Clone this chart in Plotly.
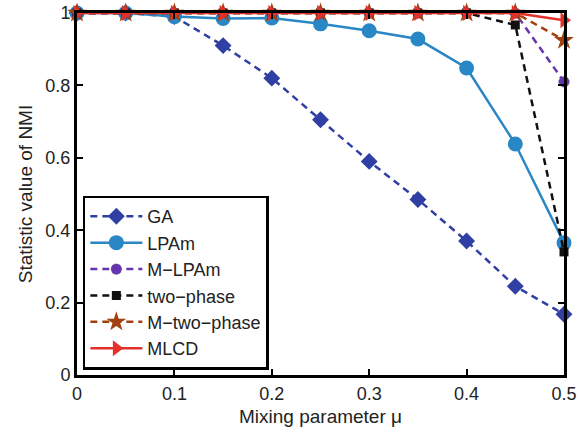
import plotly.graph_objects as go

# Mixing parameter values
mu = [0, 0.05, 0.1, 0.15, 0.2, 0.25, 0.3, 0.35, 0.4, 0.45, 0.5]

# NMI for each algorithm
ga = [1.0, 1.0, 0.99, 0.91, 0.82, 0.705, 0.59, 0.485, 0.37, 0.245, 0.168]
lpam = [1.0, 1.0, 0.99, 0.985, 0.986, 0.97, 0.951, 0.928, 0.848, 0.638, 0.365]
m_lpam = [1.0, 1.0, 1.0, 1.0, 1.0, 1.0, 1.0, 1.0, 1.0, 1.0, 0.81]
two_phase = [1.0, 1.0, 1.0, 1.0, 1.0, 1.0, 1.0, 1.0, 1.0, 0.967, 0.34]
m_two_phase = [1.0, 1.0, 1.0, 1.0, 1.0, 1.0, 1.0, 1.0, 1.0, 1.0, 0.925]
mlcd = [1.0, 1.0, 1.0, 1.0, 1.0, 1.0, 1.0, 1.0, 1.0, 1.0, 0.98]

x_ticks = [0, 0.1, 0.2, 0.3, 0.4, 0.5]
y_ticks = [0, 0.2, 0.4, 0.6, 0.8, 1]

series = [
    ("GA", ga, "#2f3fa3", "dash", "diamond", 13, 0),
    ("LPAm", lpam, "#2a87c6", "solid", "circle", 15, 0),
    ("M\u2212LPAm", m_lpam, "#6535ad", "dash", "asterisk-open", 9, 3.5),
    ("two\u2212phase", two_phase, "#111111", "dash", "square", 9, 0),
    ("M\u2212two\u2212phase", m_two_phase, "#a3400f", "dash", "star", 15, 0),
    ("MLCD", mlcd, "#e2302a", "solid", "triangle-right", 14, 0),
]

fig = go.Figure()
for name, vals, color, dash, symbol, size, mlw in series:
    fig.add_trace(go.Scatter(
        x=mu, y=vals, name=name, mode="lines+markers",
        line=dict(color=color, width=2.5, dash="7px,5px" if dash == "dash" else dash),
        marker=dict(symbol=symbol, size=size, color=color,
                    line=dict(width=mlw, color=color)),
        cliponaxis=False,
    ))

axis_common = dict(
    showgrid=False, zeroline=False, showline=True, linecolor="black",
    linewidth=3, mirror="ticks", ticks="inside", ticklen=6, tickwidth=1.5,
    tickcolor="black", tickfont=dict(size=18, color="#222222"),
    automargin=False,
)

fig.update_layout(
    width=578, height=436,
    margin=dict(l=77, r=14, t=13, b=61),
    paper_bgcolor="white", plot_bgcolor="white",
    font=dict(family="Liberation Sans, Arial, sans-serif", color="#222222"),
    xaxis=dict(range=[0, 0.5], tickvals=x_ticks,
               ticktext=["0", "0.1", "0.2", "0.3", "0.4", "0.5"],
               title=dict(text="Mixing parameter \u03bc", font=dict(size=19), standoff=8),
               **axis_common),
    yaxis=dict(range=[0, 1], tickvals=y_ticks,
               ticktext=["0", "0.2", "0.4", "0.6", "0.8", "1"],
               title=dict(text="Statistic value of NMI", font=dict(size=19), standoff=8),
               **axis_common),
    legend=dict(x=0.012, y=0.015, xanchor="left", yanchor="bottom",
                bgcolor="white", bordercolor="black", borderwidth=2.5,
                font=dict(size=18, color="#222222"), itemwidth=52,
                tracegroupgap=0),
    showlegend=True,
)

fig.write_html("out.html")
